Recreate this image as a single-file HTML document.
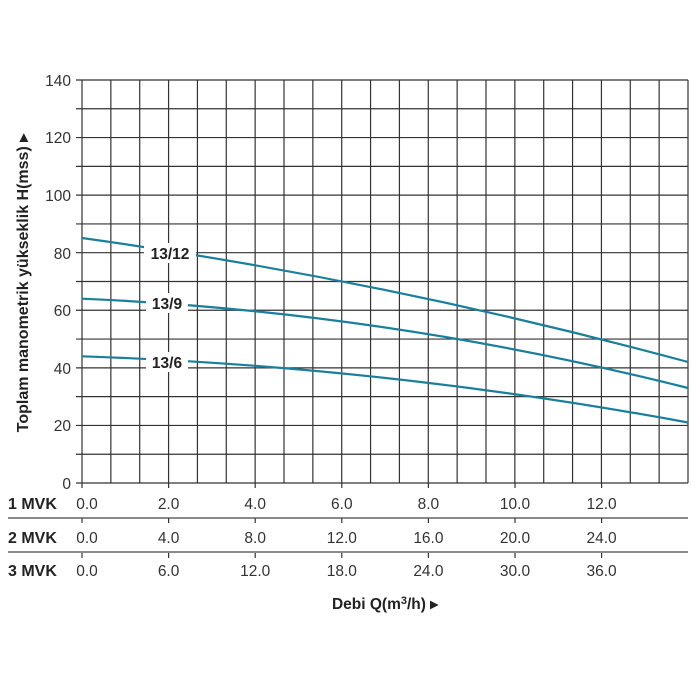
<!DOCTYPE html>
<html><head><meta charset="utf-8"><style>
html,body{margin:0;padding:0;background:#fff;}
svg{display:block;font-family:"Liberation Sans",sans-serif;}
</style></head><body>
<svg width="700" height="700" viewBox="0 0 700 700" xmlns="http://www.w3.org/2000/svg">
<rect width="700" height="700" fill="#fff"/>
<g id="g" stroke="#333" stroke-width="1.2"></g>
<g fill="#333" font-size="15.5" text-anchor="end">
<text x="71" y="489">0</text><text x="71" y="431">20</text><text x="71" y="374">40</text><text x="71" y="316">60</text><text x="71" y="259">80</text><text x="71" y="201">100</text><text x="71" y="143">120</text><text x="71" y="86">140</text>
</g>
<text transform="translate(28,283) rotate(-90)" text-anchor="middle" font-size="16" font-weight="bold" fill="#222">Toplam manometrik yükseklik H(mss) ▸</text>
<g fill="none" stroke="#1a7f9a" stroke-width="2.2">
<path d="M82,238 Q385,280 688,362"/>
<path d="M82,298.7 Q385,311.6 688,388"/>
<path d="M82,356.3 Q385,366.4 688,422.5"/>
</g>
<g font-size="15.5" font-weight="bold" fill="#222" text-anchor="middle">
<rect x="144" y="243" width="52" height="20" fill="#fff"/><text x="170" y="259">13/12</text>
<rect x="146" y="293" width="42" height="20" fill="#fff"/><text x="167" y="309">13/9</text>
<rect x="146" y="352" width="42" height="20" fill="#fff"/><text x="167" y="368">13/6</text>
</g>
<g stroke="#444" stroke-width="1.3"><line x1="8" y1="518" x2="688" y2="518"/><line x1="8" y1="552" x2="688" y2="552"/></g>
<g font-size="16" font-weight="bold" fill="#222">
<text x="8" y="509">1 MVK</text><text x="8" y="543">2 MVK</text><text x="8" y="576">3 MVK</text>
</g>
<g id="xl" font-size="15.5" fill="#333" text-anchor="middle"></g>
<text x="385" y="609" font-size="15.5" font-weight="bold" fill="#222" text-anchor="middle">Debi Q(m<tspan dy="-5" font-size="11">3</tspan><tspan dy="5">/h) ▸</tspan></text>
<script>
var g=document.getElementById('g'),ns='http://www.w3.org/2000/svg';
function L(a,b,c,d){var l=document.createElementNS(ns,'line');l.setAttribute('x1',a);l.setAttribute('y1',b);l.setAttribute('x2',c);l.setAttribute('y2',d);g.appendChild(l);}
for(var i=0;i<=21;i++){var x=82+i*28.857;L(x,80,x,483);}
for(var j=0;j<=14;j++){var y=483-j*28.786;L(76,y,688,y);}
var xl=document.getElementById('xl');
var rows=[[509,['0.0','2.0','4.0','6.0','8.0','10.0','12.0']],[543,['0.0','4.0','8.0','12.0','16.0','20.0','24.0']],[576,['0.0','6.0','12.0','18.0','24.0','30.0','36.0']]];
rows.forEach(function(r,ri){r[1].forEach(function(t,k){var x=82+k*86.6;var e=document.createElementNS(ns,'text');e.setAttribute('x',x+(k==0?5:0));e.setAttribute('y',r[0]);e.textContent=t;xl.appendChild(e);
var ty=483+ri*35;L(x,ty,x,ty+5);});});
</script>
</svg>
</body></html>
